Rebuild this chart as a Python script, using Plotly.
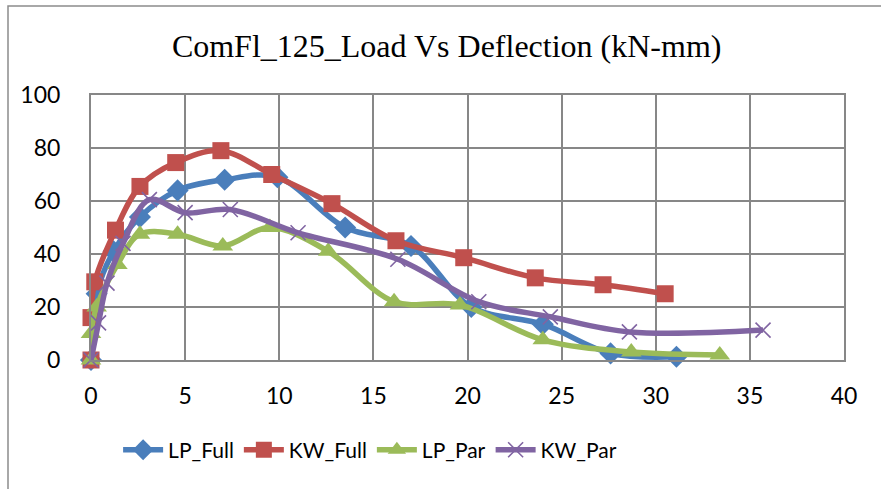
import plotly.graph_objects as go

# Deflection (mm) and load (kN) for each specimen
lp_full_x = [0, 0.3, 1.2, 2.6, 4.6, 7.1, 9.9, 13.5, 17.0, 20.2, 24.0, 27.6, 31.1]
lp_full_y = [0, 25, 41, 54, 64, 68, 69, 50, 43, 20, 13.5, 2.5, 1.2]

kw_full_x = [0, 0, 0.2, 1.3, 2.6, 4.5, 6.9, 9.6, 12.8, 16.2, 19.8, 23.6, 27.2, 30.5]
kw_full_y = [0, 16, 29.5, 49, 65.5, 74.5, 79, 70, 59, 45, 38.6, 31, 28.4, 25]

lp_par_x = [0, 0, 0.3, 1.4, 2.6, 4.6, 7.0, 9.5, 12.6, 16.1, 19.6, 24.0, 28.7, 33.4]
lp_par_y = [0, 10, 20, 36, 47.5, 47.5, 43, 50, 41, 22, 20.8, 7.6, 3, 1.9]

kw_par_x = [0, 0.4, 0.85, 1.7, 3.1, 5.0, 7.4, 11.0, 16.3, 20.6, 24.4, 28.6, 35.7]
kw_par_y = [0, 14, 29, 44, 60.5, 55.6, 56.8, 48, 38, 22, 16.3, 10.6, 11.3]

x_ticks = [0, 5, 10, 15, 20, 25, 30, 35, 40]
y_ticks = [0, 20, 40, 60, 80, 100]

series = [
    ("LP_Full", lp_full_x, lp_full_y, "#4A7EBB", dict(symbol="diamond", size=17)),
    ("KW_Full", kw_full_x, kw_full_y, "#C0504D", dict(symbol="square", size=17)),
    ("LP_Par", lp_par_x, lp_par_y, "#9BBB59", dict(symbol="triangle-up", size=18)),
    ("KW_Par", kw_par_x, kw_par_y, "#8064A2",
     dict(symbol="x-thin-open", size=15, line=dict(width=1.6, color="#8064A2"))),
]

fig = go.Figure()
for name, xs, ys, color, marker in series:
    fig.add_trace(go.Scatter(
        x=xs, y=ys, name=name, mode="lines+markers",
        line=dict(color=color, width=5.5, shape="spline", smoothing=1),
        marker=dict(color=color, **marker),
        cliponaxis=False,
    ))

grid = "#878787"
fig.update_layout(
    width=881, height=489,
    margin=dict(l=91, r=37, t=95, b=129),
    paper_bgcolor="white", plot_bgcolor="white",
    title=dict(text="ComFl_125_Load Vs Deflection (kN-mm)",
               x=0.507, xref="container", xanchor="center",
               y=1 - 46 / 489, yref="container", yanchor="middle",
               font=dict(family="Liberation Serif", size=32, color="black")),
    font=dict(family="Lato", size=22, color="black"),
    legend=dict(orientation="h", x=0.036, xanchor="left",
                y=-0.34, yanchor="middle",
                font=dict(family="Lato", size=21, color="black"),
                itemwidth=40, tracegroupgap=0),
    shapes=[dict(type="rect", xref="paper", yref="paper",
                 x0=(8 - 91) / 753, x1=(890 - 91) / 753,
                 y0=(360 - 500) / 265, y1=(360 - 6) / 265,
                 line=dict(color="#8C8C8C", width=1.5), fillcolor="rgba(0,0,0,0)",
                 layer="below")],
)
fig.update_xaxes(range=[0, 40], tickvals=x_ticks, showgrid=True, gridcolor=grid,
                 gridwidth=1.5, showline=True, linecolor=grid, linewidth=2,
                 mirror=True, zeroline=False, ticks="", ticklabelstandoff=14,
                 tickfont=dict(family="Lato", size=23, color="black"))
fig.update_yaxes(range=[0, 100], tickvals=y_ticks, showgrid=True, gridcolor=grid,
                 gridwidth=1.5, showline=True, linecolor=grid, linewidth=2,
                 mirror=True, zeroline=False, ticks="", ticklabelstandoff=24,
                 tickfont=dict(family="Lato", size=23, color="black"))

fig.write_html("out.html")
